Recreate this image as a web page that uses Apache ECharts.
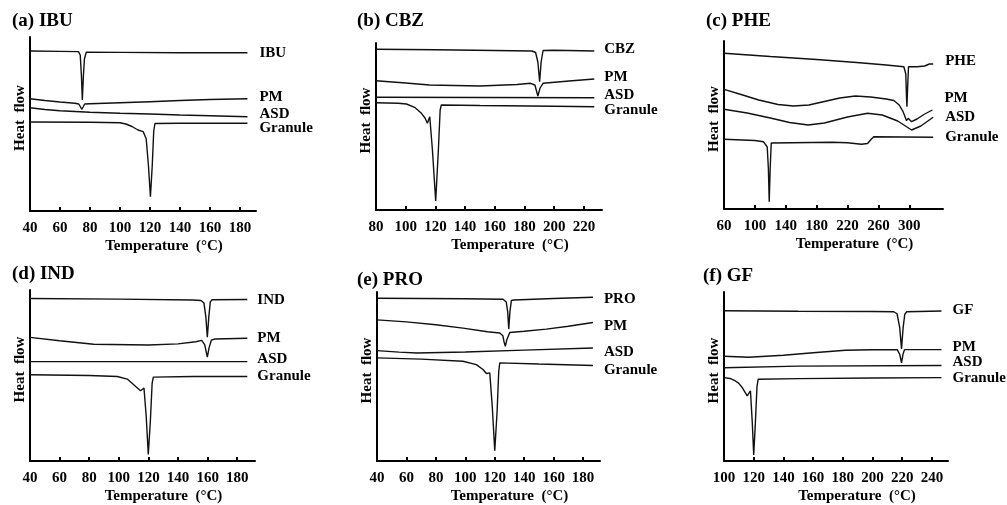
<!DOCTYPE html>
<html>
<head>
<meta charset="utf-8">
<script src="https://cdn.jsdelivr.net/npm/echarts@6/dist/echarts.min.js"></script>
<style>
  html, body { margin: 0; padding: 0; background: #fff; }
  #main { width: 1007px; height: 505px; }
</style>
</head>
<body>
<div id="main"></div>
<script>
// heat flow values are arbitrary units (height above the x axis)
// (a) IBU
let ticksA = [40, 60, 80, 100, 120, 140, 160, 180];
let ibuA = [[40,160],[60,159.6],[72.3,159.4],[73.5,156],[74.3,135],[74.9,111],[75.6,135],[76.3,152],[77.5,158.8],[100,158.6],[140,158.3],[185,158.2]];
let pmA = [[40,112.3],[50,110.5],[60,109],[70,107.8],[72.5,107],[73.7,104],[74.5,101.7],[75.4,104],[76.5,107],[80,107.2],[100,108.2],[120,109.3],[140,110.5],[160,111.5],[185,112.3]];
let asdA = [[40,103.3],[50,101.5],[60,100.2],[80,98.8],[100,97.8],[120,97],[140,96],[160,95.2],[185,94.3]];
let granA = [[40,89],[80,88.8],[100,88.3],[104,87],[108,84.5],[112,81],[115.5,79.3],[117.5,72],[119,45],[120.3,14.3],[121.5,45],[122.5,80],[123.3,87.5],[140,87.7],[185,87.7]];

// (b) CBZ
let ticksB = [80, 100, 120, 140, 160, 180, 200, 220];
let cbzB = [[80,160.7],[120,160.3],[160,159.5],[185,159],[187.5,157.5],[189,148],[190.2,128.3],[191.2,148],[192.5,159.5],[200,159.8],[227,159]];
let pmB = [[80,129.3],[100,127],[116,125],[150,124],[175,125.5],[184,126.7],[187,125],[189,114],[190.5,122],[192.5,126.7],[210,129],[227,131]];
let asdB = [[80,112.7],[150,112.5],[227,112.3]];
let granB = [[80,107.3],[95,106.8],[100.5,106],[106,102.7],[110.6,96.7],[113,92],[114.6,86.7],[116.2,93.3],[118,60],[120.2,9],[122,60],[123.2,100],[124,105],[150,104.5],[200,103.8],[227,103.3]];

// (c) PHE
let ticksC = [60, 100, 140, 180, 220, 260, 300];
let pheC = [[60,155.7],[120,152.5],[180,149.5],[236,146.3],[270,144],[293,142.3],[295.5,135],[296.5,110],[297,102.3],[297.8,120],[299,142.3],[310,142.3],[320,143],[326,145],[331,145]];
let pmC = [[60,119.7],[80,115],[105,109],[130,104.5],[150,103],[170,104],[190,107.5],[210,111],[230,113],[250,112],[270,110],[280,108.5],[287,104],[292,97.3],[296.5,88.3],[298.6,90.7],[303,87.3],[310,90],[320,95],[330,99]];
let asdC = [[60,99.7],[90,96],[120,91],[145,86.5],[169,84],[190,86],[220,92],[246,95.7],[265,94],[285,88],[303,79],[315,83],[331,91.7]];
let granC = [[60,69.7],[100,68.5],[111,67.3],[116,62],[117.5,40],[118.6,7.3],[119.8,40],[121.2,66],[122,67.3],[200,66.7],[220,66.3],[238,64.8],[246,65.5],[251,70],[254,72.3],[331,71.7]];

// (d) IND
let ticksD = [40, 60, 80, 100, 120, 140, 160, 180];
let indD = [[40,163.4],[100,162.8],[150,162],[155.5,161.5],[157.5,159],[158.8,145],[159.8,124.4],[160.8,145],[161.8,160],[163,162.2],[186.8,162.4]];
let pmD = [[40,124.4],[60,121],[83,117.4],[120,116.7],[140,117.8],[152,120],[156,121.3],[158,117],[159.8,104.4],[161,114],[162.5,121.5],[165,122.7],[186.8,123.4]];
let asdD = [[40,100],[186.8,100]];
let granD = [[40,86.7],[80,86],[99,85],[105.7,82.4],[111.4,75],[114.7,70.7],[117,73.4],[118.5,45],[119.9,6.7],[121.3,40],[122.5,78],[123.3,84.4],[150,85],[186.8,85]];

// (e) PRO
let ticksE = [40, 60, 80, 100, 120, 140, 160, 180];
let proE = [[40,163.7],[100,163.2],[125.6,162.7],[127.8,160],[128.8,150],[129.5,132.7],[130.3,150],[131.3,161.5],[133,162],[160,163.5],[186.7,164.7]];
let pmE = [[40,142],[60,140],[80,137],[98.4,133.7],[115,130],[123.4,128.7],[125.5,126],[126.3,120],[127.2,115.3],[128.2,122],[130.2,129.3],[140,130.5],[155,132.7],[170,135.5],[186.7,139.3]];
let asdE = [[40,111],[55,109.5],[67,108.7],[100,109.7],[140,111.5],[186.7,113.7]];
let granE = [[40,103.7],[70,102.5],[98.4,100.3],[107.5,97],[112,92],[114.3,88],[116.6,88.7],[118.3,55],[120,10.3],[121.6,50],[122.7,90],[123.4,98.7],[150,97.5],[186.7,96]];

// (f) GF
let ticksF = [100, 120, 140, 160, 180, 200, 220, 240];
let gfF = [[100,152],[150,151.5],[200,151.2],[214.3,151],[216.5,149],[218.3,135],[219.5,113.4],[220.6,135],[221.7,148.5],[223,151],[246.4,151.7]];
let pmF = [[100,106],[116.6,105],[140,107],[160,109.5],[181.8,112],[200,112.5],[216.6,112.7],[218.3,108],[219.5,99.4],[220.5,108],[221.5,112.7],[246.4,112.7]];
let asdF = [[100,94.4],[150,96],[246.4,96.7]];
let granF = [[100,84.4],[104,83.5],[107.7,81],[110,78.5],[112.2,74.4],[114,70],[115.6,66],[116.6,64.4],[117.8,71],[119,40],[120,6],[121,35],[122.2,75],[123,82.7],[150,83.4],[200,84],[246.4,84.4]];

let font = "'Liberation Serif', 'Times New Roman', serif";

let panels = [
  { title: '(a) IBU', tl: 12, tt: 12, grid: { left: 30, top: 37, width: 226, height: 174 }, xmin: 40, xmax: 190.7, ticks: ticksA, gap: 12,
    curves: [['IBU', ibuA, 0], ['PM', pmA, -2], ['ASD', asdA, -3], ['Granule', granA, 5]] },
  { title: '(b) CBZ', tl: 357, tt: 12, grid: { left: 376, top: 43, width: 226, height: 167 }, xmin: 80, xmax: 232.2, ticks: ticksB, gap: 10,
    curves: [['CBZ', cbzB, -2], ['PM', pmB, -2], ['ASD', asdB, -3], ['Granule', granB, 3]] },
  { title: '(c) PHE', tl: 706, tt: 12, grid: { left: 724, top: 41, width: 219, height: 168 }, xmin: 60, xmax: 343.7, ticks: ticksC, gap: 12,
    curves: [['PHE', pheC, -3], ['PM', pmC, -12], ['ASD', asdC, 0], ['Granule', granC, 0]] },
  { title: '(d) IND', tl: 12, tt: 265, grid: { left: 30, top: 290, width: 225, height: 172 }, xmin: 40, xmax: 192, ticks: ticksD, gap: 10,
    curves: [['IND', indD, 1], ['PM', pmD, 0], ['ASD', asdD, -2], ['Granule', granD, 0]] },
  { title: '(e) PRO', tl: 357, tt: 271, grid: { left: 377, top: 292, width: 223, height: 170 }, xmin: 40, xmax: 191.5, ticks: ticksE, gap: 11,
    curves: [['PRO', proE, 2], ['PM', pmE, 4], ['ASD', asdE, 4], ['Granule', granE, 5]] },
  { title: '(f) GF', tl: 703, tt: 267, grid: { left: 724, top: 292, width: 224, height: 171 }, xmin: 100, xmax: 250.8, ticks: ticksF, gap: 11,
    curves: [['GF', gfF, -1], ['PM', pmF, -2], ['ASD', asdF, -3], ['Granule', granF, 1]] }
];

let titles = [], grids = [], xAxes = [], yAxes = [], series = [];

panels.forEach(function (p, i) {
  titles.push({
    text: p.title, left: p.tl, top: p.tt, padding: 0,
    textStyle: { fontFamily: font, fontSize: 19, fontWeight: 'bold', color: '#000' }
  });
  grids.push(p.grid);
  xAxes.push({
    type: 'value', gridIndex: i, min: p.xmin, max: p.xmax,
    name: 'Temperature  (°C)', nameLocation: 'middle', nameGap: 28,
    nameTextStyle: { fontFamily: font, fontSize: 15, fontWeight: 'bold', color: '#000', padding: [0, 0, 0, 42] },
    axisLine: { show: true, onZero: false, lineStyle: { color: '#000', width: 2 } },
    axisTick: { show: true, inside: true, length: 4, customValues: p.ticks.slice(1), lineStyle: { color: '#000', width: 2 } },
    axisLabel: { customValues: p.ticks, margin: 10, fontFamily: font, fontSize: 15, fontWeight: 'bold', color: '#000' },
    splitLine: { show: false }
  });
  yAxes.push({
    type: 'value', gridIndex: i, min: 0, max: p.grid.height,
    name: 'Heat  flow', nameLocation: 'middle', nameGap: 2, nameRotate: 90,
    nameTextStyle: { fontFamily: font, fontSize: 15, fontWeight: 'bold', color: '#000', padding: [0, 0, 0, 12] },
    axisLine: { show: true, onZero: false, lineStyle: { color: '#000', width: 2 } },
    axisTick: { show: false },
    axisLabel: { show: false },
    splitLine: { show: false }
  });
  p.curves.forEach(function (c) {
    series.push({
      name: c[0], type: 'line', xAxisIndex: i, yAxisIndex: i,
      data: c[1], symbol: 'none', smooth: false,
      lineStyle: { color: '#111', width: 1.4 },
      endLabel: {
        show: true, formatter: function (prm) { return prm.seriesName; },
        distance: p.gap, offset: [0, c[2]],
        fontFamily: font, fontSize: 15, fontWeight: 'bold', color: '#000'
      }
    });
  });
});

let chart = echarts.init(document.getElementById('main'));
chart.setOption({
  backgroundColor: '#fff',
  animation: false,
  title: titles,
  grid: grids,
  xAxis: xAxes,
  yAxis: yAxes,
  series: series
});
</script>
</body>
</html>
